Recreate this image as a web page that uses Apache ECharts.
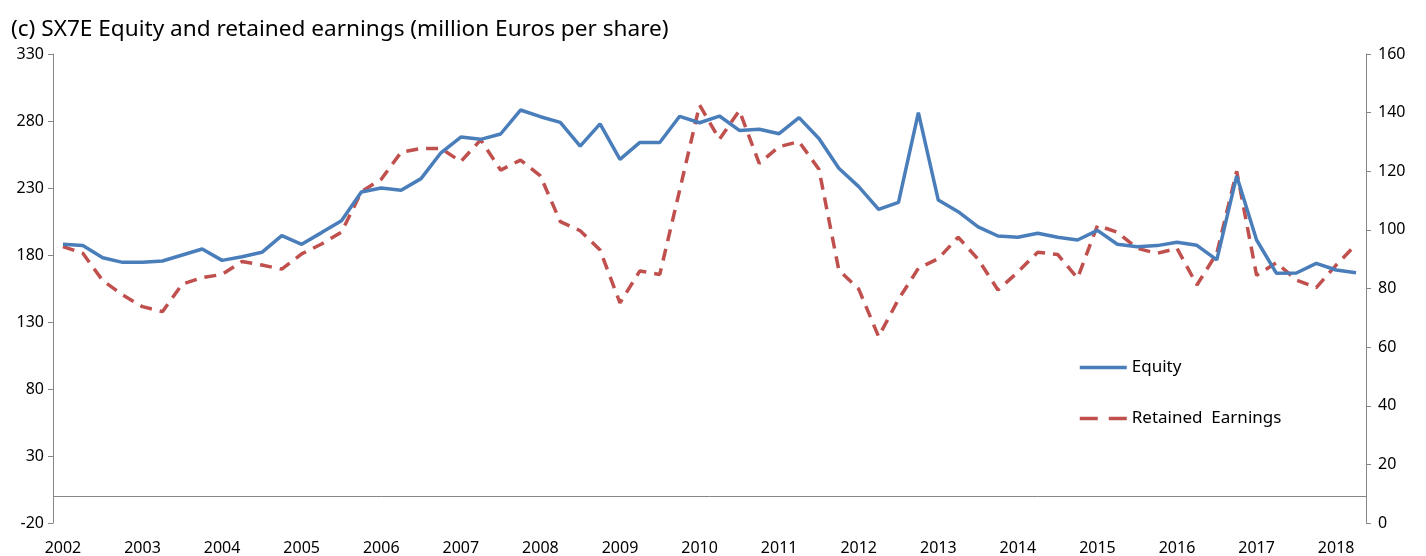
<!DOCTYPE html>
<html>
<head>
<meta charset="utf-8">
<script src="https://cdn.jsdelivr.net/npm/echarts@6/dist/echarts.min.js"></script>
<style>
  html, body { margin: 0; padding: 0; background: #fff; }
  #chart { width: 1426px; height: 556px; }
</style>
</head>
<body>
<div id="chart"></div>
<script>
// quarterly observations, 2002Q1 .. 2018Q2
const quarters = [];
for (let y = 2002; y <= 2018; y++) {
  for (let q = 1; q <= 4; q++) {
    if (y === 2018 && q > 2) break;
    quarters.push(y + "Q" + q);
  }
}

// left axis, million euros
const equity = [
  188, 187, 178, 174.5, 174.5, 175.5, 180, 184.5, 176, 178.7, 182, 194.4,
  188, 196.7, 205.6, 227, 230, 228.3, 237, 256.3, 268, 266.3, 270.3, 288.2,
  283.2, 279, 261.3, 277.8, 251.4, 264, 264, 283.5, 278.7, 283.7, 273, 273.8,
  270.5, 282.5, 267, 244.7, 231, 214, 219.3, 286.2, 221, 212.3, 201, 194.2,
  193.2, 196.2, 193.2, 191.2, 198.4, 188, 186.2, 187, 189.5, 187.2, 176.3, 239,
  191.2, 166.3, 166.6, 173.8, 168.8, 166.8
];

// right axis
const retainedEarnings = [
  94.3, 92, 82.7, 77.8, 73.8, 72.1, 81.5, 83.7, 84.8, 89.2, 88, 86.6,
  91.8, 95.2, 99.2, 113, 117.3, 126.5, 127.8, 127.8, 123.3, 130.7, 120.4, 123.8,
  118.4, 102.8, 99.7, 93.1, 75.1, 86, 84.8, 113.5, 142.6, 130.9, 140.7, 122.7,
  128.4, 130.1, 120.7, 86.3, 79.8, 63.6, 76.3, 86.9, 90.2, 97.5, 90, 79.5,
  85.6, 92.4, 91.6, 83.5, 101.5, 99.2, 93.7, 92, 93.7, 81.2, 92, 120,
  84.5, 88.8, 82.9, 80.3, 88, 95
];

const titleText = "(c) SX7E Equity and retained earnings (million Euros per share)";
const axisGray = "#868686";
const font = "Noto Sans";

const chart = echarts.init(document.getElementById("chart"));

const option = {
  animation: false,
  textStyle: { fontFamily: font },
  title: {
    text: titleText,
    left: 6,
    top: 13,
    textStyle: { fontFamily: font, fontSize: 22.6, fontWeight: "normal", color: "#000" },
  },
  legend: {
    orient: "vertical",
    left: 1073,
    top: 354,
    itemWidth: 47,
    itemHeight: 12,
    itemGap: 34,
    itemStyle: { opacity: 0 },
    lineStyle: { width: 3.5 },
    textStyle: { fontFamily: font, fontSize: 17, color: "#000", padding: [0, 0, 0, 0] },
    data: [
      { name: "Equity" },
      { name: "Retained  Earnings", lineStyle: { width: 3.5, type: [18, 11] } },
    ],
  },
  grid: { left: 53, right: 60, top: 54, bottom: 33 },
  xAxis: {
    type: "category",
    data: quarters,
    boundaryGap: true,
    axisLine: { show: false },
    axisTick: { show: false },
    axisLabel: {
      interval: 3,
      margin: 17,
      color: "#000",
      fontSize: 16,
      formatter: (v) => v.slice(0, 4),
    },
  },
  yAxis: [
    {
      type: "value",
      min: -20,
      max: 330,
      interval: 50,
      position: "left",
      axisLine: { show: true, lineStyle: { color: axisGray } },
      axisTick: { show: true, length: 5, lineStyle: { color: axisGray } },
      axisLabel: { color: "#000", fontSize: 16, margin: 9 },
      splitLine: { show: false },
    },
    {
      type: "value",
      min: 0,
      max: 160,
      interval: 20,
      position: "right",
      axisLine: { show: true, lineStyle: { color: axisGray } },
      axisTick: { show: true, length: 5, lineStyle: { color: axisGray } },
      axisLabel: { color: "#000", fontSize: 16, margin: 12 },
      splitLine: { show: false },
    },
  ],
  series: [
    {
      name: "Equity",
      type: "line",
      yAxisIndex: 0,
      data: equity,
      showSymbol: false,
      symbol: "none",
      lineStyle: { color: "#4a7ebb", width: 3.5 },
      itemStyle: { color: "#4a7ebb" },
      markLine: {
        silent: true,
        symbol: ["none", "none"],
        label: { show: false },
        lineStyle: { color: axisGray, type: "solid", width: 1 },
        data: [{ yAxis: 0 }],
      },
      z: 3,
    },
    {
      name: "Retained  Earnings",
      type: "line",
      yAxisIndex: 1,
      data: retainedEarnings,
      showSymbol: false,
      symbol: "none",
      lineStyle: { color: "#c0504d", width: 3.5, type: [12, 8] },
      itemStyle: { color: "#c0504d" },
      z: 2,
    },
  ],
};

chart.setOption(option);
</script>
</body>
</html>
